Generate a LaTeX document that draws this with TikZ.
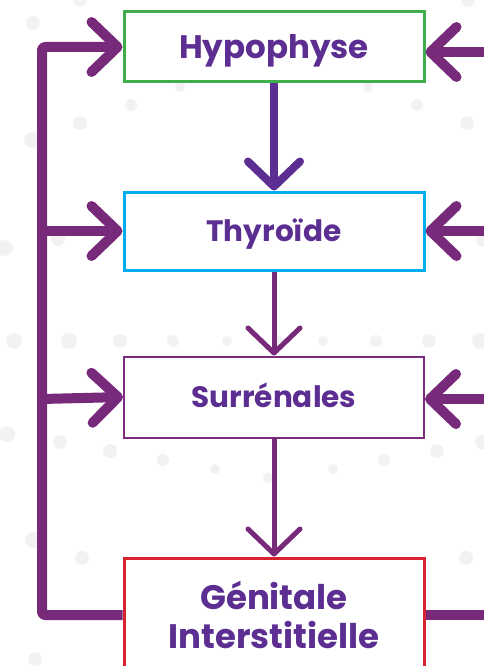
\documentclass[tikz,border=0pt]{standalone}
\usepackage{fontspec}
\setmainfont{Poppins}
\usetikzlibrary{arrows.meta}
\definecolor{lnviolet}{HTML}{772A7A}
\definecolor{txtviolet}{HTML}{5C2E91}
\definecolor{boxgreen}{HTML}{3DAE49}
\definecolor{boxcyan}{HTML}{00AEEF}
\definecolor{boxpurple}{HTML}{7B2C7F}
\definecolor{boxred}{HTML}{D7232F}
\definecolor{dotgray}{HTML}{F2F2F2}
\begin{document}
\begin{tikzpicture}[x=1pt, y=-1pt,
        every node/.style={text=txtviolet},
        box/.style={rectangle, fill=white, minimum width=300pt, inner sep=0pt},
        capline/.style={text height=#1, text depth=0pt},
        lien/.style={line width=10pt, draw=lnviolet, line join=round},
        chev/.style={-{Straight Barb[length=26pt, width=50pt, line cap=round, line join=round]}},
        fleche/.style={draw=#1, -{Straight Barb[length=25pt, width=52pt, line cap=round, line join=round]}}
    ]
    \useasboundingbox (0,0) rectangle (483,666);
    \foreach \x/\y/\r in {33/23/7, 80/0/7, 468/0/7, 180/87/5, 368/87/5, 131/105/6, 417/105/6,
        80/123/7, 467/123/7, 32/140/8, 5/248/8, 58/239/7, 483/240/7,
        14/341/8, 69/341/8, 120/341/7, 173/341/6, 227/341/5, 280/341/5, 323/341/5, 376/341/6, 429/341/7, 480/341/8,
        7/434/8, 60/442/7, 110/451/7, 163/460/6, 215/469/5, 268/478/5, 333/469/5, 384/460/6, 437/451/7, 482/442/7,
        33/540/8, 82/558/7, 466/558/7, 35/659/7}
        \fill[dotgray] (\x,\y) circle (\r pt);
    \node[box, capline=22.7pt, draw=boxgreen, line width=3pt, minimum height=70pt, font=\fontsize{32.5}{38}\selectfont\bfseries] (hypo) at (274,47) {Hypophyse};
    \node[box, capline=20.6pt, draw=boxcyan, line width=3pt, minimum height=78pt, font=\fontsize{29.5}{35}\selectfont\bfseries] (thyro) at (274,231) {Thyroïde};
    \node[box, capline=20.6pt, draw=boxpurple, line width=2pt, minimum height=81pt, font=\fontsize{29.5}{35}\selectfont\bfseries] (surr) at (274,397) {Surrénales};
    \node[box, align=center, draw=boxred, line width=3pt, minimum height=114pt, font=\fontsize{34}{39}\selectfont\bfseries] (geni) at (274,615) {Génitale\\Interstitielle};
    \coordinate (coin) at (42,615);
    \coordinate (haut) at (42,47);
    \coordinate (gt) at (42,231);
    \coordinate (gs) at (42,399);
    \coordinate (dh) at (495,52);
    \coordinate (dt) at (495,231);
    \coordinate (ds) at (495,399);
    \coordinate (dg) at (495,615);
    \draw[lien, chev, rounded corners=3pt] (geni.west) -- (coin) -- (haut) -- (hypo.west);
    \draw[lien, chev] (gt) -- (thyro.west);
    \draw[lien, chev] (gs) -- (surr.west);
    \draw[lien, chev] (dh) -- (dh -| hypo.east);
    \draw[lien, chev] (dt) -- (thyro.east);
    \draw[lien, chev] (ds) -- (ds -| surr.east);
    \draw[lien] (geni.east) -- (dg);
    \draw[fleche=txtviolet, line width=8pt] (hypo.south) -- (thyro.north);
    \draw[fleche=lnviolet, line width=5pt] (thyro.south) -- (surr.north);
    \draw[fleche=lnviolet, line width=5pt] (surr.south) -- (geni.north);
\end{tikzpicture}
\end{document}
